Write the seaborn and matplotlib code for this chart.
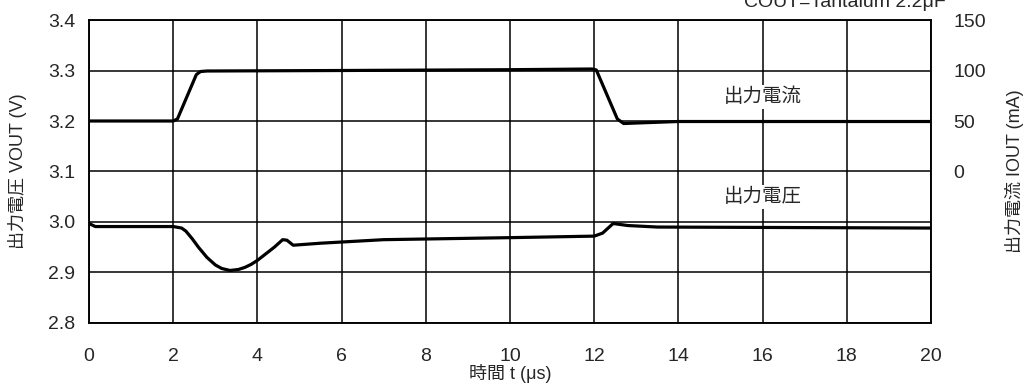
import numpy as np
import pandas as pd
import seaborn as sns
from matplotlib import pyplot as plt

sns.set_style('white')
plt.rcParams['font.family'] = ['Liberation Sans', 'Noto Sans CJK JP', 'DejaVu Sans']

# output voltage trace (V)
t_v = [0, 0.15, 2.0, 2.2, 2.3, 2.45, 2.6, 2.8, 3.0, 3.15, 3.35, 3.55, 3.7, 3.85, 4.0, 4.4, 4.6, 4.7,
       4.85, 5.5, 7, 10, 12.0, 12.2, 12.45, 12.8, 13.5, 20]
v_out = [2.997, 2.991, 2.991, 2.988, 2.982, 2.967, 2.950, 2.930, 2.915, 2.908, 2.904, 2.906, 2.910,
         2.916, 2.924, 2.950, 2.965, 2.964, 2.954, 2.958, 2.965, 2.969, 2.972, 2.978, 2.997, 2.993,
         2.990, 2.988]

# output current trace (mA)
t_i = [0, 2.0, 2.1, 2.55, 2.65, 2.8, 6, 10, 11.95, 12.05, 12.55, 12.7, 13.0, 14, 20]
i_out = [50, 50, 52, 96, 99, 99.5, 100, 100.8, 101.5, 100.5, 52, 47.5, 48, 49.5, 49.5]

x_ticks = [0, 2, 4, 6, 8, 10, 12, 14, 16, 18, 20]
v_ticks = [2.8, 2.9, 3.0, 3.1, 3.2, 3.3, 3.4]
i_ticks = [0, 50, 100, 150]

df_v = pd.DataFrame({'t': t_v, 'v': v_out})
df_i = pd.DataFrame({'t': t_i, 'i': i_out})

fig = plt.figure(figsize=(10.35, 3.87), dpi=100)
ax = fig.add_axes([0.086, 0.1654, 0.8135, 0.7829])
ax2 = ax.twinx()

sns.lineplot(data=df_v, x='t', y='v', ax=ax, color='black', lw=2.3, zorder=5)
sns.lineplot(data=df_i, x='t', y='i', ax=ax2, color='black', lw=2.3, zorder=5)

ax.set_xlim(0, 20)
ax.set_ylim(2.8, 3.4)
ax2.set_ylim(-150, 150)
ax.set_xticks(x_ticks)
ax.set_yticks(v_ticks)
ax.set_yticklabels(['%.1f' % y for y in v_ticks])
ax2.set_yticks(i_ticks)

ax.grid(True, color='black', lw=1.1)
ax2.grid(False)
ax.tick_params(length=0, labelsize=14)
ax.tick_params(axis='y', pad=10)
ax.tick_params(axis='x', pad=18)
ax2.tick_params(length=0, labelsize=14, pad=16)
for a in (ax, ax2):
    for s in a.spines.values():
        s.set_color('black')
        s.set_linewidth(1.1)

ax.set_xlabel('時間 t (μs)', fontsize=13, labelpad=-1)
ax.set_ylabel('出力電圧 VOUT (V)', fontsize=13, labelpad=15)
ax2.set_ylabel('出力電流 IOUT (mA)', fontsize=13, labelpad=14)
ax.set_zorder(ax2.get_zorder() - 1)
ax2.patch.set_visible(False)

ax.text(16.0, 3.248, '出力電流', fontsize=14, ha='center', va='center', zorder=6,
        bbox=dict(facecolor='white', edgecolor='none', pad=2))
ax.text(16.0, 3.049, '出力電圧', fontsize=14, ha='center', va='center', zorder=6,
        bbox=dict(facecolor='white', edgecolor='none', pad=2))

fig.text(0.8164, 1 - 7 / 387, 'COUT=Tantalum 2.2μF', fontsize=14, ha='center', va='baseline')

fig.savefig('out.png', dpi=100)
